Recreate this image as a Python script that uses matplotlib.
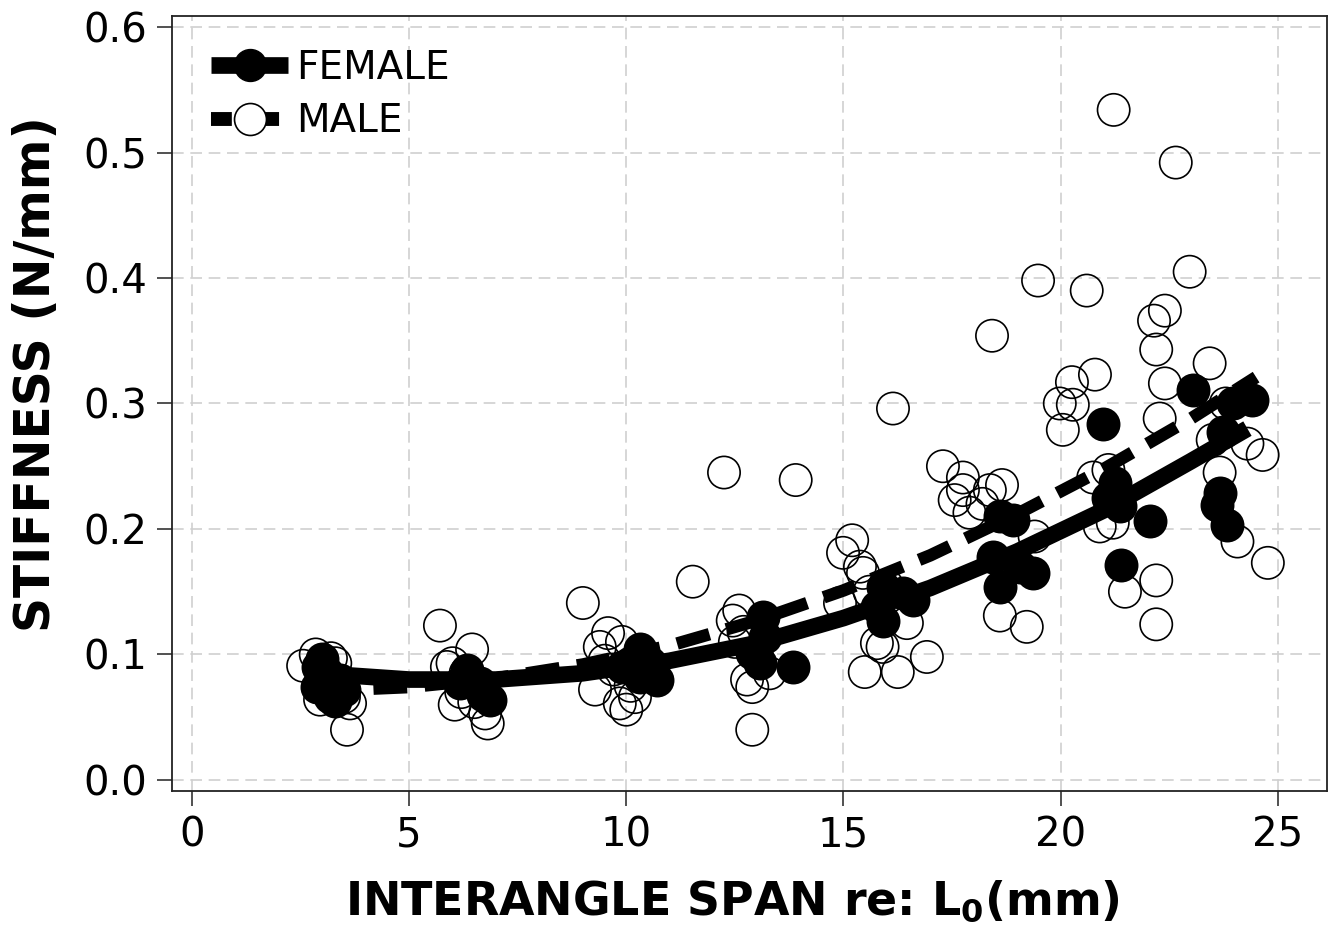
import numpy as np
import matplotlib
matplotlib.use('Agg')
import matplotlib.pyplot as plt
from matplotlib.lines import Line2D

plt.rcParams.update({
    'font.family': 'DejaVu Sans',
    'figure.dpi': 100,
})

# ── Data ──────────────────────────────────────────────────────────────────────
male_x = [2.85, 2.56, 3.57, 3.30, 2.95, 3.64, 3.10, 3.40, 3.00, 3.50, 3.20,
          5.71, 6.45, 6.81, 6.05, 6.00, 6.75, 5.87, 6.20, 6.50, 6.30, 6.60,
          9.00, 9.58, 9.39, 9.28, 9.85, 10.00, 9.50, 9.70, 10.10, 9.90, 10.20,
          11.53,
          12.25, 12.60, 12.45, 12.90, 12.90, 12.78, 12.70, 13.00, 13.30, 12.50, 13.90,
          16.14, 15.20, 14.99, 15.38, 15.45, 14.92, 15.77, 15.49, 16.25, 16.92,
          15.90, 16.46, 16.00, 15.60,
          17.29, 17.75, 17.75, 17.56, 17.90, 18.65, 18.37, 19.40, 18.60, 19.22,
          18.42, 19.48, 18.20,
          19.98, 20.05, 20.26, 20.28, 20.60, 20.79, 21.22, 20.75, 21.10, 20.90,
          21.20, 21.48,
          22.65, 22.97, 22.40, 22.15, 22.20, 22.40, 23.43, 22.28, 22.20, 22.20,
          23.50, 24.30, 24.65, 23.66, 24.07, 24.77, 23.80]
male_y = [0.100, 0.091, 0.040, 0.093, 0.064, 0.061, 0.072, 0.070, 0.084, 0.066, 0.097,
          0.123, 0.104, 0.045, 0.060, 0.093, 0.053, 0.090, 0.070, 0.062, 0.085, 0.075,
          0.141, 0.117, 0.106, 0.072, 0.061, 0.056, 0.095, 0.088, 0.075, 0.110, 0.066,
          0.158,
          0.245, 0.135, 0.127, 0.040, 0.074, 0.080, 0.118, 0.100, 0.085, 0.110, 0.239,
          0.296, 0.191, 0.181, 0.170, 0.165, 0.141, 0.109, 0.086, 0.086, 0.098,
          0.106, 0.125, 0.155, 0.150,
          0.250, 0.241, 0.231, 0.223, 0.213, 0.235, 0.231, 0.194, 0.131, 0.122,
          0.354, 0.398, 0.220,
          0.300, 0.279, 0.317, 0.299, 0.390, 0.323, 0.534, 0.241, 0.247, 0.202,
          0.205, 0.150,
          0.492, 0.405, 0.374, 0.366, 0.343, 0.316, 0.332, 0.288, 0.159, 0.124,
          0.271, 0.268, 0.259, 0.245, 0.190, 0.173, 0.300]

female_x = [3.00, 3.18, 3.40, 2.87, 3.30, 3.10, 2.90, 3.50,
            6.33, 6.63, 6.86, 6.17, 6.40, 6.70,
            10.31, 10.08, 10.54, 10.70, 10.31, 9.90,
            13.15, 13.20, 13.08, 13.84, 12.90,
            15.90, 15.90, 16.60, 15.77, 16.37,
            18.60, 18.90, 18.44, 18.60, 19.36, 19.06,
            20.97, 21.25, 21.36, 21.40, 22.05, 21.10,
            23.04, 24.40, 23.73, 23.66, 23.60, 23.83, 23.96]
female_y = [0.096, 0.066, 0.080, 0.074, 0.063, 0.085, 0.090, 0.072,
            0.088, 0.077, 0.064, 0.077, 0.080, 0.068,
            0.104, 0.093, 0.093, 0.080, 0.082, 0.090,
            0.130, 0.114, 0.093, 0.090, 0.101,
            0.154, 0.127, 0.143, 0.138, 0.149,
            0.210, 0.207, 0.178, 0.154, 0.165, 0.170,
            0.284, 0.237, 0.218, 0.171, 0.206, 0.225,
            0.311, 0.303, 0.277, 0.229, 0.219, 0.203, 0.300]

# fitted curves
fit_f_x = [2.9, 5, 7, 9, 11, 13, 15, 17, 19, 21, 23, 24.3]
fit_f_y = [0.085, 0.080, 0.080, 0.085, 0.095, 0.109, 0.129, 0.153, 0.182, 0.215, 0.254, 0.280]
fit_m_x = [3, 5, 7, 9, 11, 13, 15, 17, 19, 21, 23, 24.5]
fit_m_y = [0.071, 0.074, 0.081, 0.092, 0.107, 0.127, 0.151, 0.179, 0.212, 0.248, 0.288, 0.321]

x_ticks = [0, 5, 10, 15, 20, 25]
y_ticks = [0.0, 0.1, 0.2, 0.3, 0.4, 0.5, 0.6]

# ── Figure ────────────────────────────────────────────────────────────────────
fig = plt.figure(figsize=(13.36, 9.31))
ax = fig.add_axes([0.1287, 0.1504, 0.8645, 0.8324])

ax.scatter(male_x, male_y, s=540, facecolors='none', edgecolors='black',
           linewidths=1.2, zorder=3)
ax.plot(fit_f_x, fit_f_y, color='black', lw=12, solid_capstyle='butt', zorder=4)
ax.plot(fit_m_x, fit_m_y, color='black', lw=9, dashes=(2.7, 1.4),
        dash_capstyle='butt', zorder=4)
ax.scatter(female_x, female_y, s=540, c='black', edgecolors='black',
           linewidths=1.2, zorder=5)

ax.set_xlim(-0.46, 26.13)
ax.set_ylim(-0.0088, 0.6088)
ax.set_xticks(x_ticks)
ax.set_yticks(y_ticks)
ax.set_xticklabels([str(t) for t in x_ticks])
ax.set_yticklabels([f'{t:.1f}' for t in y_ticks])
ax.tick_params(direction='out', length=11, width=1.1, labelsize=29, pad=7,
               color='#222222')

ax.grid(True, color='#cfcfcf', linestyle=(0, (7, 4)), lw=1.2, zorder=0)
ax.set_axisbelow(True)
for sp in ax.spines.values():
    sp.set_linewidth(1.3)
    sp.set_color('#222222')

ax.set_xlabel(r'INTERANGLE SPAN re: L$_\mathbf{0}$(mm)', fontsize=33,
              fontweight='bold')
ax.set_ylabel('STIFFNESS (N/mm)', fontsize=35, fontweight='bold')
ax.xaxis.set_label_coords(0.485, -0.113)
ax.yaxis.set_label_coords(-0.097, 0.538)

handles = [
    Line2D([], [], color='black', lw=12, marker='o', ms=23, mfc='black',
           mec='black', solid_capstyle='butt'),
    Line2D([], [], color='black', lw=10, dashes=(1.5, 1.9), marker='o', ms=23,
           mfc='white', mec='black', mew=1.2, dash_capstyle='butt'),
]
ax.legend(handles, ['FEMALE', 'MALE'], loc='upper left', frameon=False,
          fontsize=28, handlelength=2.0, handletextpad=0.2, labelspacing=0.4,
          borderaxespad=0.3, bbox_to_anchor=(0.01, 0.993))

fig.savefig('out.png', dpi=100)
